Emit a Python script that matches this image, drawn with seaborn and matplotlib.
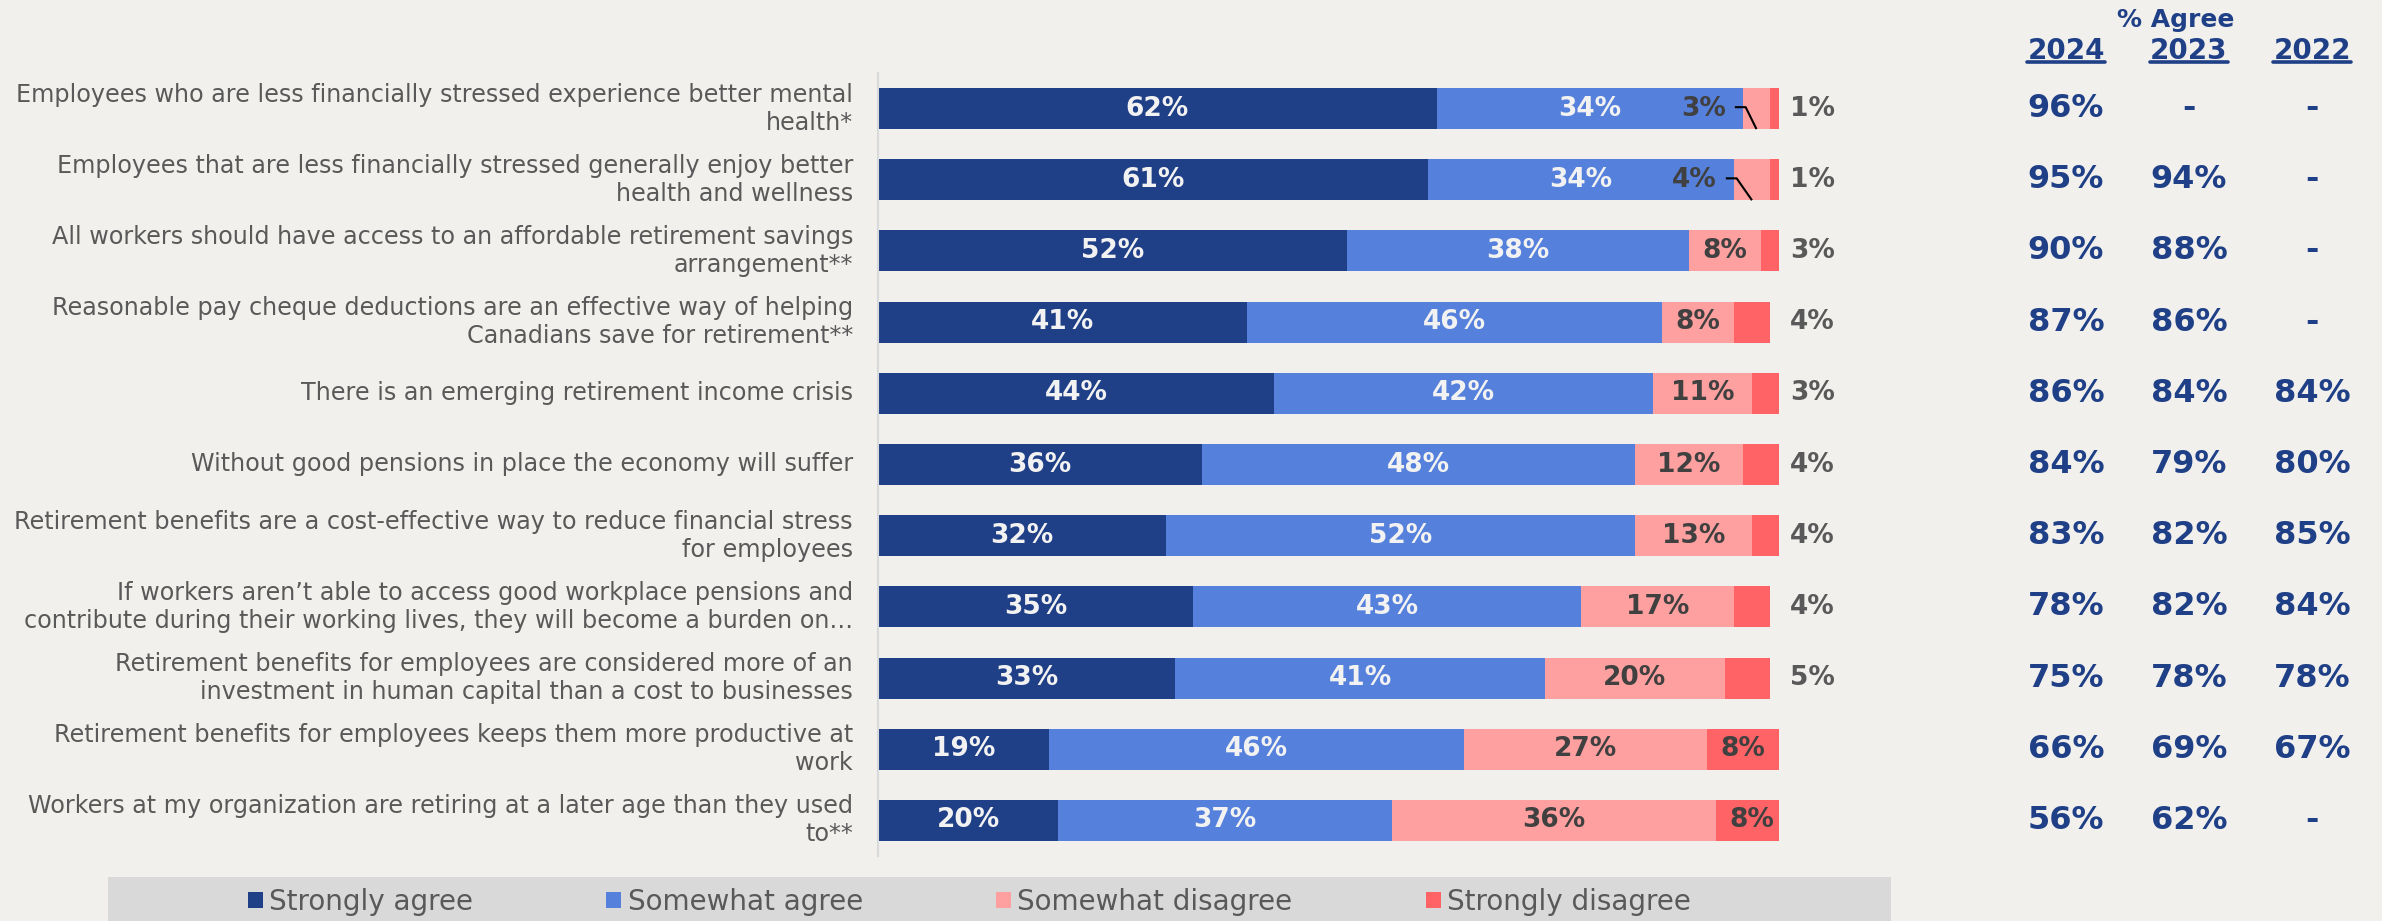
import numpy as np
import pandas as pd
import matplotlib
matplotlib.use("Agg")
import matplotlib.pyplot as plt
import seaborn as sns
from matplotlib.patches import Patch, Rectangle
from matplotlib.lines import Line2D
from matplotlib.transforms import blended_transform_factory

statements = [
    "Employees who are less financially stressed experience better mental\nhealth*",
    "Employees that are less financially stressed generally enjoy better\nhealth and wellness",
    "All workers should have access to an affordable retirement savings\narrangement**",
    "Reasonable pay cheque deductions are an effective way of helping\nCanadians save for retirement**",
    "There is an emerging retirement income crisis",
    "Without good pensions in place the economy will suffer",
    "Retirement benefits are a cost-effective way to reduce financial stress\nfor employees",
    "If workers aren\u2019t able to access good workplace pensions and\ncontribute during their working lives, they will become a burden on\u2026",
    "Retirement benefits for employees are considered more of an\ninvestment in human capital than a cost to businesses",
    "Retirement benefits for employees keeps them more productive at\nwork",
    "Workers at my organization are retiring at a later age than they used\nto**",
]
strongly_agree = [62, 61, 52, 41, 44, 36, 32, 35, 33, 19, 20]
somewhat_agree = [34, 34, 38, 46, 42, 48, 52, 43, 41, 46, 37]
somewhat_disagree = [3, 4, 8, 8, 11, 12, 13, 17, 20, 27, 36]
strongly_disagree = [1, 1, 3, 4, 3, 4, 4, 4, 5, 8, 8]

years = ["2024", "2023", "2022"]
agree_2024 = [96, 95, 90, 87, 86, 84, 83, 78, 75, 66, 56]
agree_2023 = [None, 94, 88, 86, 84, 79, 82, 82, 78, 69, 62]
agree_2022 = [None, None, None, None, 84, 80, 85, 84, 78, 67, None]

series_names = ["Strongly agree", "Somewhat agree", "Somewhat disagree", "Strongly disagree"]
colors = ["#1F3F87", "#5580DB", "#FFA0A0", "#FF6366"]
label_colors = ["#F2F2F2", "#F2F2F2", "#404040", "#404040"]
BG = "#F1F0ED"
NAVY = "#1F3F87"
GREY = "#595959"

W, H = 2382, 921
sns.set_theme(style="white")
plt.rcParams["font.family"] = ["DejaVu Sans"]

fig = plt.figure(figsize=(W / 100, H / 100), dpi=100, facecolor=BG)
ax = fig.add_axes([878 / W, (H - 856) / H, 901 / W, 783 / H])
ax.set_facecolor(BG)

values = [strongly_agree, somewhat_agree, somewhat_disagree, strongly_disagree]
df = pd.DataFrame({"statement": statements})
for name, vals in zip(series_names, values):
    df[name] = vals
cum = df[series_names].cumsum(axis=1)
cum["statement"] = df["statement"]

bar_h = 0.575
# stacked bars: widest cumulative total first, then overlay the shorter ones
for name, col in reversed(list(zip(series_names, colors))):
    sns.barplot(data=cum, x=name, y="statement", orient="h", color=col,
                saturation=1, width=bar_h, linewidth=0, errorbar=None, ax=ax)

n = len(statements)
ax.set_xlim(0, 100)
ax.set_ylim(n - 0.5, -0.5)
ax.set_xlabel("")
ax.set_ylabel("")
ax.set_xticks([])
ax.set_yticks(range(n))
ax.set_yticklabels(statements, fontsize=17.2, color=GREY)
for lbl in ax.get_yticklabels():
    lbl.set_linespacing(1.22)
    lbl.set_verticalalignment("center")
ax.tick_params(axis="y", length=0, pad=18)
for side in ["top", "right", "bottom"]:
    ax.spines[side].set_visible(False)
ax.spines["left"].set_color("#D9D9D9")
ax.spines["left"].set_linewidth(1.5)

# segment value labels
LBL = 19
for i in range(n):
    left = 0
    for k, vals in enumerate(values):
        v = vals[i]
        center = left + v / 2
        txt = f"{v}%"
        if k < 2 or v >= 8:
            ax.text(center, i, txt, ha="center", va="center", fontsize=LBL,
                    fontweight="bold", color=label_colors[k])
        elif k == 2:
            # narrow segment: label to the left with a leader line
            ax.text(left - 1.9, i, txt, ha="right", va="center", fontsize=LBL,
                    fontweight="bold", color="#404040")
            ax.plot([left - 0.9, left + 0.3, center], [i - 0.02, i - 0.02, i + bar_h / 2],
                    color="black", lw=1.5, solid_capstyle="butt", clip_on=False)
        else:
            ax.text(101.2, i, txt, ha="left", va="center", fontsize=LBL,
                    fontweight="bold", color=GREY, clip_on=False)
        left += v

# right-hand "% Agree" table
tr = blended_transform_factory(fig.transFigure, ax.transData)
col_x = [2066 / W, 2189 / W, 2312 / W]
for cx, col in zip(col_x, [agree_2024, agree_2023, agree_2022]):
    for i, v in enumerate(col):
        ax.text(cx, i, "-" if v is None else f"{v}%", transform=tr, ha="center",
                va="center", fontsize=23, fontweight="bold", color=NAVY, clip_on=False)

fig.text(2176 / W, 1 - 27 / H, "% Agree", ha="center", va="baseline",
         fontsize=18, fontweight="bold", color=NAVY)
year_texts = []
for cx, yr in zip(col_x, years):
    year_texts.append(fig.text(cx, 1 - 59 / H, yr, ha="center", va="baseline",
                               fontsize=20, fontweight="bold", color=NAVY))

# legend band
fig.add_artist(Rectangle((108 / W, 0), (1891 - 108) / W, 44 / H,
                         transform=fig.transFigure, facecolor="#D9D9D9",
                         edgecolor="none", zorder=0))
handles = [Patch(facecolor=c, edgecolor="none", label=nm) for nm, c in zip(series_names, colors)]
fig.legend(handles=handles, loc="center left", bbox_to_anchor=(248 / W, 1 - 902 / H),
           ncol=4, frameon=False, fontsize=20, labelcolor=GREY, borderpad=0,
           handlelength=0.54, handleheight=0.54, handletextpad=0.22,
           columnspacing=4.8, borderaxespad=0)

# underline the year headers
fig.canvas.draw()
renderer = fig.canvas.get_renderer()
for t in year_texts:
    bb = t.get_window_extent(renderer)
    yy = (H - 62.5) / H
    fig.add_artist(Line2D([bb.x0 / W, bb.x1 / W], [yy, yy], transform=fig.transFigure,
                          color=NAVY, lw=2.6))

fig.savefig("out.png", dpi=100, facecolor=BG)
